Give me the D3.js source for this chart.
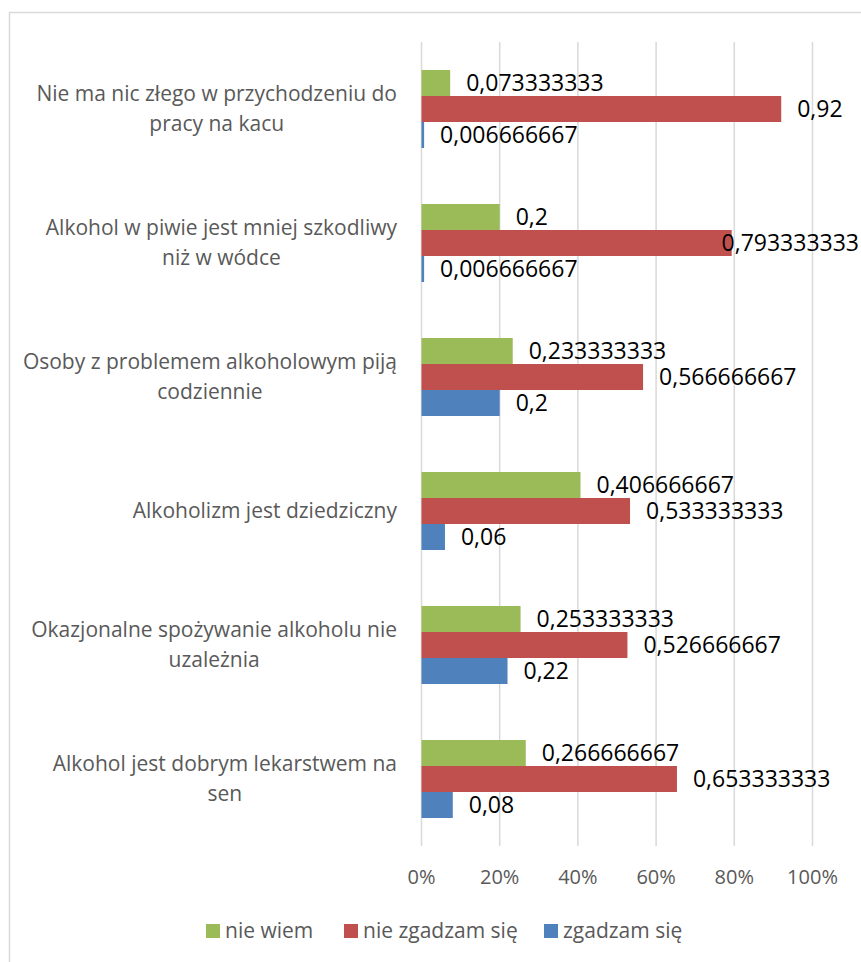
<!DOCTYPE html>
<html>
<head>
<meta charset="utf-8">
<script src="https://cdn.jsdelivr.net/npm/d3@7"></script>
<style>
  body { margin: 0; background: #fff; }
  text { font-family: "Open Sans", "Noto Sans", sans-serif; }
</style>
</head>
<body>
<div id="chart"></div>
<script>
// categories, top to bottom (each entry is the label split into lines)
const categories = [
  ["Nie ma nic złego w przychodzeniu do", "pracy na kacu"],
  ["Alkohol w piwie jest mniej szkodliwy", "niż w wódce"],
  ["Osoby z problemem alkoholowym piją", "codziennie"],
  ["Alkoholizm jest dziedziczny"],
  ["Okazjonalne spożywanie alkoholu nie", "uzależnia"],
  ["Alkohol jest dobrym lekarstwem na", "sen"]
]
const seriesNames = ["nie wiem", "nie zgadzam się", "zgadzam się"]
const nieWiem = [0.073333333, 0.2, 0.233333333, 0.406666667, 0.253333333, 0.266666667]
const nieZgadzam = [0.92, 0.793333333, 0.566666667, 0.533333333, 0.526666667, 0.653333333]
const zgadzam = [0.006666667, 0.006666667, 0.2, 0.06, 0.22, 0.08]
const tickValues = [0, 0.2, 0.4, 0.6, 0.8, 1.0]

const colors = ["#9bbb59", "#c0504d", "#4f81bd"]
const seriesValues = [nieWiem, nieZgadzam, zgadzam]

const width = 861, height = 962

let svg = d3.select("#chart")
  .append("svg")
  .attr("width", width)
  .attr("height", height)

// chart frame (runs off the right and bottom edge)
svg.append("rect")
  .attr("x", 9.5)
  .attr("y", 12.5)
  .attr("width", 900)
  .attr("height", 1000)
  .attr("fill", "none")
  .attr("stroke", "#d9d9d9")
  .attr("stroke-width", 1.5)

let x = d3.scaleLinear()
  .domain([0, 1])
  .range([421.5, 812.5])

let catKeys = categories.map((c, i) => i)
let y = d3.scaleBand()
  .domain(catKeys)
  .range([42, 846])
  .paddingInner(0.418)
  .paddingOuter(0.209)

let ySub = d3.scaleBand()
  .domain(seriesNames)
  .range([0, y.bandwidth()])

// gridlines
svg.append("g")
  .selectAll("line")
  .data(tickValues)
  .enter()
  .append("line")
  .attr("x1", d => x(d))
  .attr("x2", d => x(d))
  .attr("y1", 42)
  .attr("y2", 846)
  .attr("stroke", "#d9d9d9")
  .attr("stroke-width", 1.5)

// x tick labels
svg.append("g")
  .selectAll("text")
  .data(tickValues)
  .enter()
  .append("text")
  .attr("x", d => x(d))
  .attr("y", 877)
  .attr("dy", "0.35em")
  .attr("text-anchor", "middle")
  .attr("font-size", 20)
  .attr("fill", "#595959")
  .text(d => d3.format(".0%")(d))

// bars + value labels
const fmt = v => String(v).replace(".", ",")
const labelMaxRight = 859
seriesNames.forEach((name, s) => {
  let g = svg.append("g")
  let rows = catKeys.map(i => ({ i: i, v: seriesValues[s][i] }))
  g.selectAll("rect")
    .data(rows)
    .enter()
    .append("rect")
    .attr("x", x(0))
    .attr("y", d => y(d.i) + ySub(name))
    .attr("width", d => x(d.v) - x(0))
    .attr("height", ySub.bandwidth())
    .attr("fill", colors[s])
  g.selectAll("text")
    .data(rows)
    .enter()
    .append("text")
    .attr("y", d => y(d.i) + ySub(name) + ySub.bandwidth() / 2)
    .attr("dy", "0.36em")
    .attr("font-size", 23)
    .attr("fill", "#000")
    .text(d => fmt(d.v))
    .attr("x", function (d) {
      // keep the label inside the chart, like Excel does
      let w = this.getComputedTextLength()
      return Math.min(x(d.v) + 16, labelMaxRight - w)
    })
})

// category labels: block right-aligned, lines centred inside the block
const labelRight = 397
let catG = svg.append("g")
categories.forEach((lines, i) => {
  let cy = y(i) + y.bandwidth() / 2
  let t = catG.append("text")
    .attr("font-size", 21)
    .attr("fill", "#595959")
    .attr("text-anchor", "middle")
  lines.forEach((ln, k) => {
    t.append("tspan")
      .attr("y", cy + (k - (lines.length - 1) / 2) * 30)
      .attr("dy", "0.35em")
      .text(ln)
  })
  let w = d3.max(t.selectAll("tspan").nodes(), n => n.getComputedTextLength())
  t.selectAll("tspan").attr("x", labelRight - w / 2)
})

// legend
const legendX = [206, 344, 544]
let leg = svg.append("g")
seriesNames.forEach((name, s) => {
  leg.append("rect")
    .attr("x", legendX[s])
    .attr("y", 924)
    .attr("width", 14)
    .attr("height", 14)
    .attr("fill", colors[s])
  leg.append("text")
    .attr("x", legendX[s] + 19)
    .attr("y", 931)
    .attr("dy", "0.35em")
    .attr("font-size", 21)
    .attr("fill", "#595959")
    .text(name)
})
</script>
</body>
</html>
